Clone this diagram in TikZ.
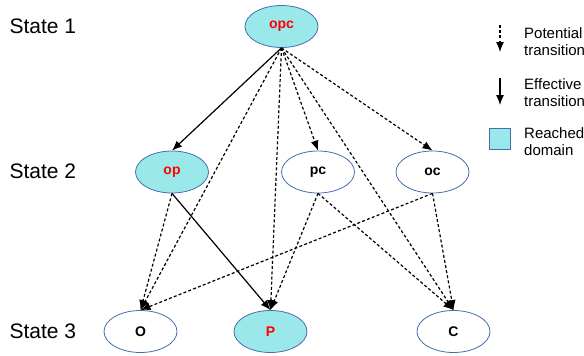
\documentclass[tikz,border=0pt]{standalone}
\usepackage{fontspec}
\setmainfont{Liberation Sans}
\usetikzlibrary{shapes.geometric,arrows.meta}
\definecolor{reach}{RGB}{155,232,235}
\definecolor{rim}{RGB}{70,110,175}
\tikzset{
  st/.style={ellipse, draw=rim, line width=0.8pt, minimum width=73pt, minimum height=42pt, inner sep=0pt, font=\fontsize{14}{16}\selectfont\bfseries},
  reached/.style={st, fill=reach, text=red},
  plain/.style={st, fill=white},
  eff/.style={line width=1.2pt, -{Latex[length=10pt,width=8pt]}},
  pot/.style={line width=1.2pt, dash pattern=on 3pt off 2.2pt, -{Latex[length=10pt,width=8pt]}},
  lvl/.style={anchor=base west, font=\fontsize{21}{24}\selectfont},
  leg/.style={anchor=base west, inner sep=0pt, font=\fontsize{15}{17}\selectfont},
}
\begin{document}
\begin{tikzpicture}[x=1pt,y=-1pt]
\useasboundingbox (0,0) rectangle (584,356);
% level labels
\node[lvl] (s1) at (6,33) {State 1};
\node[lvl] (s2) at (6,178) {State 2};
\node[lvl] (s3) at (6,338) {State 3};
% nodes
\node[reached] (opc) at (281.5,26.5) {opc};
\node[reached] (op) at (172,172) {op};
\node[plain] (pc) at (318,172) {pc};
\node[plain] (oc) at (432.5,172) {oc};
\node[plain] (o) at (140.5,331.5) {O};
\node[reached] (P) at (270.5,331.5) {P};
\node[plain] (C) at (453.5,331.5) {C};
% transitions
\draw[eff] (opc.south) -- (op.north);
\draw[pot] (opc.south) -- (o.north);
\draw[pot] (opc.south) -- (P.north);
\draw[pot] (opc.south) -- (pc.north);
\draw[pot] (opc.south) -- (C.north);
\draw[pot] (opc.south) -- (oc.north);
\draw[eff] (op.south) -- (P.north);
\draw[pot] (op.south) -- (o.north);
\draw[pot] (pc.south) -- (P.north);
\draw[pot] (pc.south) -- (C.north);
\draw[pot] (oc.south) -- (o.north);
\draw[pot] (oc.south) -- (C.north);
% legend
\coordinate (la1) at (500,25);
\coordinate (la2) at (500,52);
\draw[pot] (la1) -- (la2);
\node[leg] (lt1) at (524,38) {Potential};
\node[leg] (lt2) at (524,55) {transition};
\coordinate (lb1) at (500,78);
\coordinate (lb2) at (500,105);
\draw[eff] (lb1) -- (lb2);
\node[leg] (lt3) at (524,89) {Effective};
\node[leg] (lt4) at (524,106) {transition};
\node[draw=rim, line width=1pt, fill=reach, minimum size=21pt, inner sep=0pt] (box) at (500,138.5) {};
\node[leg] (lt5) at (524,138) {Reached};
\node[leg] (lt6) at (524,155) {domain};
\end{tikzpicture}
\end{document}
